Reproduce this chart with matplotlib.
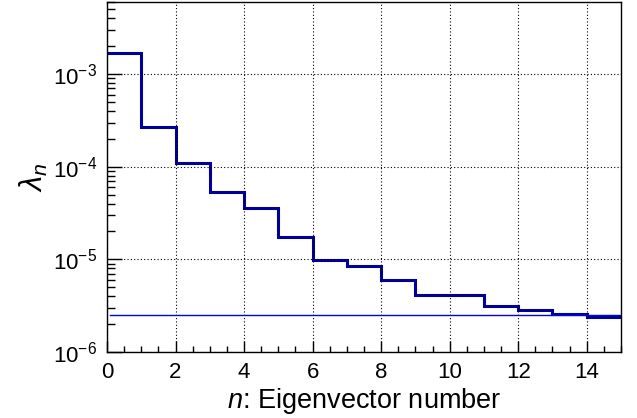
import numpy as np
import matplotlib
matplotlib.use("Agg")
import matplotlib.pyplot as plt
from matplotlib.ticker import LogLocator, MultipleLocator, NullFormatter

plt.rcParams["font.family"] = ["Liberation Sans", "DejaVu Sans"]
plt.rcParams["mathtext.fontset"] = "custom"
plt.rcParams["mathtext.rm"] = "Liberation Sans"
plt.rcParams["mathtext.it"] = "Liberation Sans:italic"

# eigenvalue per eigenvector number (bins 0..15)
bin_edges = np.arange(0, 16)
eigenvalues = [1.71e-3, 2.66e-4, 1.11e-4, 5.37e-5, 3.56e-5, 1.73e-5, 9.75e-6,
               8.47e-6, 6.04e-6, 4.12e-6, 4.15e-6, 3.11e-6, 2.86e-6, 2.59e-6, 2.41e-6]
threshold = 2.51e-6

fig = plt.figure(figsize=(6.37, 4.18), dpi=100)
ax = fig.add_axes([107 / 637, 1 - 352 / 418, (621 - 107) / 637, (352 - 2) / 418])

ax.stairs(eigenvalues, bin_edges, color="#000099", lw=2.2, baseline=None)
ax.plot([0.09, 15], [threshold, threshold], color="#0000ee", lw=1)

ax.set_yscale("log")
ax.set_xlim(0, 15)
ax.set_ylim(1e-6, 6e-3)

ax.xaxis.set_major_locator(MultipleLocator(2))
ax.xaxis.set_minor_locator(MultipleLocator(0.5))
ax.yaxis.set_major_locator(LogLocator(base=10, numticks=10))
ax.yaxis.set_minor_locator(LogLocator(base=10, subs=np.arange(2, 10), numticks=10))
ax.yaxis.set_minor_formatter(NullFormatter())

ax.tick_params(which="both", direction="in", top=False, right=False, labelsize=16, pad=7, width=1)
ax.tick_params(axis="x", which="major", length=8)
ax.tick_params(axis="x", which="minor", length=4)
ax.tick_params(axis="y", which="major", length=11)
ax.tick_params(axis="y", which="minor", length=6)

ax.grid(True, which="major", color="black", linestyle=(0, (1, 2)), lw=0.8)

for s in ax.spines.values():
    s.set_linewidth(1)

ax.set_xlabel("$n$: Eigenvector number", fontsize=19.5, labelpad=2)
ax.set_ylabel(r"$\lambda_{n}$", fontsize=22, labelpad=2)

fig.savefig("out.png", dpi=100)
